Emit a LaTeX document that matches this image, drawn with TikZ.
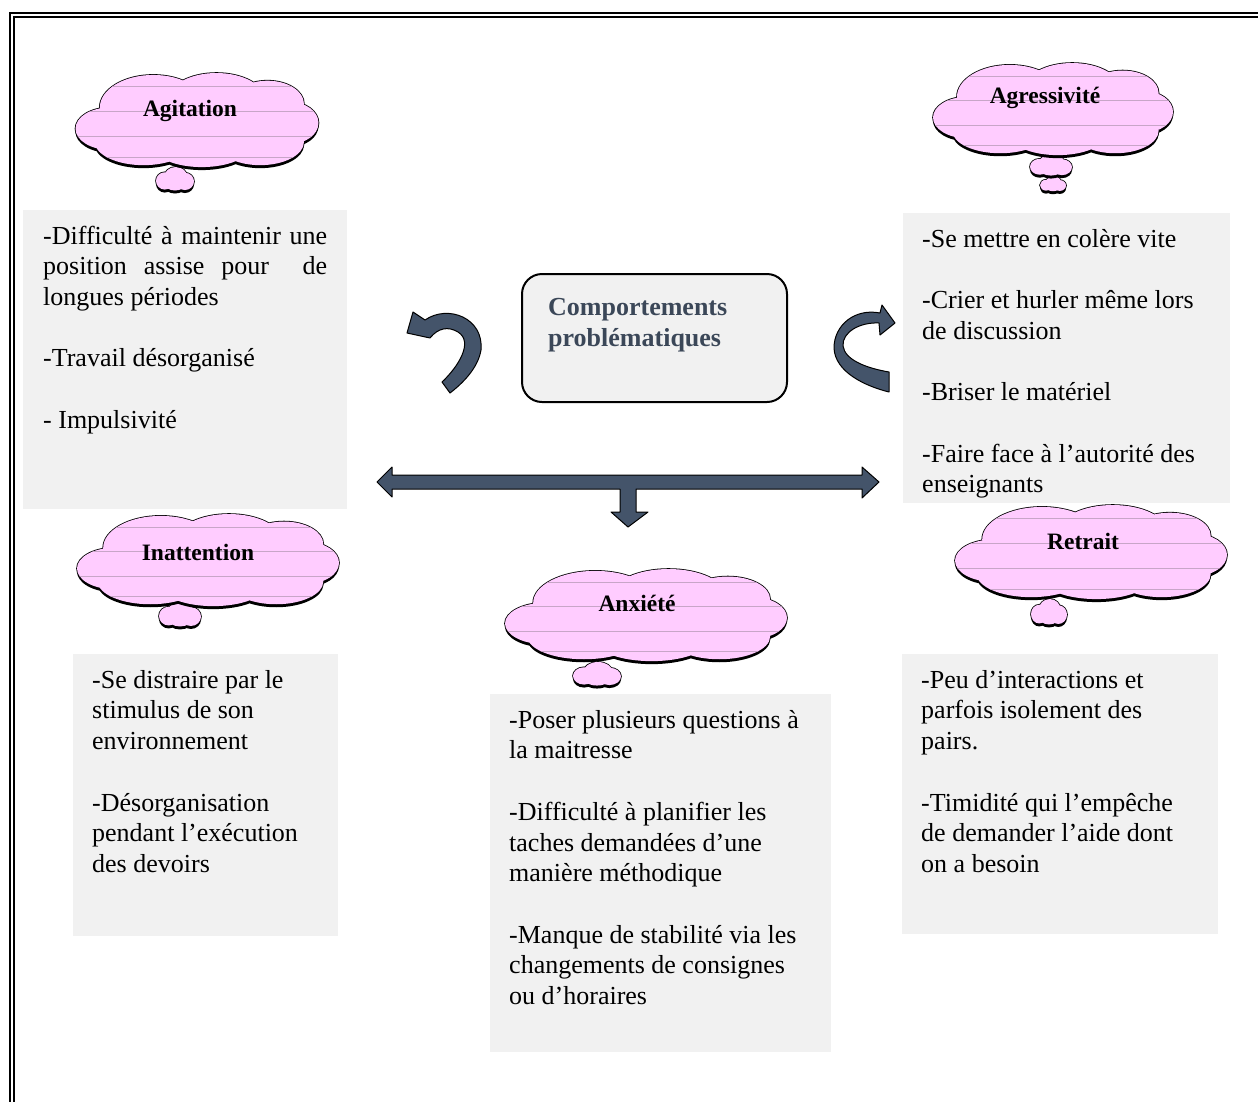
\documentclass[tikz,border=0pt]{standalone}
\usepackage{fontspec}
\setmainfont{Liberation Serif}

\definecolor{cloudpink}{RGB}{255,204,255}
\definecolor{cloudline}{RGB}{200,165,200}
\definecolor{boxgrey}{RGB}{241,241,241}
\definecolor{arrowslate}{RGB}{68,84,106}
\definecolor{titleslate}{RGB}{59,71,88}

% lobes of a cloud body and of a small tail puff, in a 100 x 100 frame
\newcommand{\bodylobes}{
    (-36,8) ellipse [x radius=14, y radius=22]
    (-18,-14) ellipse [x radius=22, y radius=34]
    (8,-22) ellipse [x radius=20, y radius=28]
    (29,-18) ellipse [x radius=15, y radius=24]
    (38,2) ellipse [x radius=12, y radius=22]
    (26,22) ellipse [x radius=18, y radius=24]
    (2,26) ellipse [x radius=20, y radius=22]
    (-22,22) ellipse [x radius=20, y radius=24]
    (0,0) ellipse [x radius=40, y radius=30]
}
\newcommand{\taillobes}{
    (-27,8) ellipse [x radius=23, y radius=36]
    (2,-10) ellipse [x radius=30, y radius=40]
    (26,10) ellipse [x radius=24, y radius=36]
    (0,14) ellipse [x radius=30, y radius=34]
}
% #1,#2 centre, #3 width, #4 height, #5 lobes
\newcommand{\drawbubble}[5]{
    \begin{scope}[shift={(#1,#2)}]
        \fill[black, yshift=-3pt, xscale=#3/100, yscale=#4/100] #5;
        \begin{scope}[xscale=#3/100, yscale=#4/100]
            \draw[line width=1.6pt] #5;
            \fill[cloudpink] #5;
        \end{scope}
    \end{scope}
}
% faint ruled lines across a cloud body
\newcommand{\bubblelines}[4]{
    \begin{scope}[shift={(#1,#2)}, xscale=#3/100, yscale=#4/100]
        \clip \bodylobes;
        \foreach \v in {-36,-10,16,38}{
            \draw[cloudline, line width=0.6pt] (-50,\v) -- (50,\v);
        }
    \end{scope}
}

\tikzset{
    bubbletext/.style={inner sep=0pt, font=\bfseries\fontsize{23.5}{28}\selectfont},
    greybox/.style={fill=boxgrey, draw=none, inner sep=0pt, anchor=north west},
    itemtext/.style={anchor=north west, inner sep=0pt, align=left, font=\fontsize{26}{30.7}\selectfont},
    corebox/.style={rounded corners=20pt, fill=boxgrey, draw=black, line width=2pt},
    coretext/.style={anchor=north west, inner sep=0pt, align=left, text=titleslate,
        font=\bfseries\fontsize{26}{31}\selectfont},
    ribbon/.style={fill=arrowslate, draw=black, line width=1pt, line join=round}
}

\begin{document}
\begin{tikzpicture}[x=1pt, y=-1pt]

    \useasboundingbox (0,0) rectangle (1258,1101);

    % Double frame, cut at right and bottom
    \draw[line width=1.8pt] (10,13) rectangle (1300,1150);
    \draw[line width=1.8pt] (14,17) rectangle (1296,1146);

    % Grey boxes with the lists
    \node[greybox, minimum width=324pt, minimum height=299pt] (agitationbox) at (23,210) {};
    \node[greybox, minimum width=327pt, minimum height=290pt] (agressivitebox) at (903,213) {};
    \node[greybox, minimum width=265pt, minimum height=282pt] (inattentionbox) at (73,654) {};
    \node[greybox, minimum width=341pt, minimum height=358pt] (anxietebox) at (490,694) {};
    \node[greybox, minimum width=316pt, minimum height=280pt] (retraitbox) at (902,654) {};

    \node[itemtext] (agitationtext) at (43,222.5) {%
        \makebox[284pt][s]{\strut-Difficulté à maintenir une}\\
        \makebox[284pt][s]{position assise pour \ de}\\
        longues périodes\\[30.7pt]
        -Travail désorganisé\\[30.7pt]
        - Impulsivité};
    \node[itemtext] (agressivitetext) at (922,225.5) {%
        \strut-Se mettre en colère vite\\[30.7pt]
        -Crier et hurler même lors\\
        de discussion\\[30.7pt]
        -Briser le matériel\\[30.7pt]
        -Faire face à l’autorité des\\
        enseignants};
    \node[itemtext] (inattentiontext) at (92,666.5) {%
        \strut-Se distraire par le\\
        stimulus de son\\
        environnement\\[30.7pt]
        -Désorganisation\\
        pendant l’exécution\\
        des devoirs};
    \node[itemtext] (anxietetext) at (509,706.5) {%
        \strut-Poser plusieurs questions à\\
        la maitresse\\[30.7pt]
        -Difficulté à planifier les\\
        taches demandées d’une\\
        manière méthodique\\[30.7pt]
        -Manque de stabilité via les\\
        changements de consignes\\
        ou d’horaires};
    \node[itemtext] (retraittext) at (921,666.5) {%
        \strut-Peu d’interactions et\\
        parfois isolement des\\
        pairs.\\[30.7pt]
        -Timidité qui l’empêche\\
        de demander l’aide dont\\
        on a besoin};

    % Clouds: tails first, then the bodies
    \drawbubble{175}{179}{38}{24}{\taillobes}
    \drawbubble{197}{121}{243}{96}{\bodylobes}
    \bubblelines{197}{121}{243}{96}
    \node[bubbletext] (agitationlabel) at (190,111) {Agitation};

    \drawbubble{1053}{184}{26}{15}{\taillobes}
    \drawbubble{1051}{165}{42}{22}{\taillobes}
    \drawbubble{1053}{110}{240}{94}{\bodylobes}
    \bubblelines{1053}{110}{240}{94}
    \node[bubbletext] (agressivitelabel) at (1045,98) {Agressivité};

    \drawbubble{180}{614}{42}{26}{\taillobes}
    \drawbubble{208}{561}{262}{94}{\bodylobes}
    \bubblelines{208}{561}{262}{94}
    \node[bubbletext] (inattentionlabel) at (198,552) {Inattention};

    \drawbubble{597}{674}{48}{24}{\taillobes}
    \drawbubble{646}{616}{282}{94}{\bodylobes}
    \bubblelines{646}{616}{282}{94}
    \node[bubbletext] (anxietelabel) at (637,603) {Anxiété};

    \drawbubble{1049}{612}{36}{26}{\taillobes}
    \drawbubble{1091}{553}{272}{96}{\bodylobes}
    \bubblelines{1091}{553}{272}{96}
    \node[bubbletext] (retraitlabel) at (1083,541) {Retrait};

    % Central box
    \node[corebox, minimum width=265pt, minimum height=128pt] (core) at (654.5,338) {};
    \node[coretext] (coretitle) at (548,294) {\strut Comportements\\problématiques};

    % Curved arrows on both sides of the central box
    \draw[ribbon] (407,333) -- (413,312) -- (425,320)
        .. controls (448,304) and (484,318) .. (481,350)
        .. controls (478,368) and (463,383) .. (450,393) -- (442,382)
        .. controls (458,367) and (474,342) .. (458,332)
        .. controls (448,326) and (438,328) .. (430,338) -- cycle;
    \draw[ribbon] (895,323) -- (882,305) -- (880,313)
        .. controls (855,308) and (834,325) .. (834,348)
        .. controls (835,372) and (865,386) .. (889,392) -- (889,372)
        .. controls (866,368) and (845,360) .. (843,346)
        .. controls (842,332) and (860,322) .. (879,323) -- (880,335) -- cycle;

    % Double arrow with the stem going down
    \draw[ribbon] (377,482) -- (392,467) -- (392,475) -- (862,475) -- (862,467)
        -- (879,482) -- (862,498) -- (862,489) -- (636,489) -- (636,512)
        -- (648,512) -- (628,527) -- (611,512) -- (620,512) -- (620,489)
        -- (392,489) -- (392,497) -- cycle;

\end{tikzpicture}
\end{document}
